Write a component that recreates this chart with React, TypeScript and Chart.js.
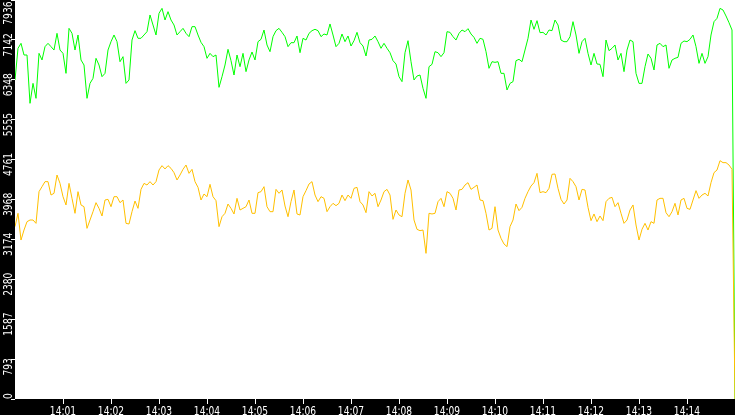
import React, { useEffect, useRef } from "react";
import { Chart, registerables } from "chart.js";

Chart.register(...registerables);

// ---- data ----
const START_LABEL = "14:00:00";
const SAMPLE_SECONDS = 3.75;
const X_MAX_SECONDS = 900;
const X_TICK_LABELS = [
  "14:01", "14:02", "14:03", "14:04", "14:05", "14:06", "14:07",
  "14:08", "14:09", "14:10", "14:11", "14:12", "14:13", "14:14",
];
const Y_MAX = 7936;
const Y_TICK_LABELS = ["0", "793", "1587", "2380", "3174", "3968", "4761", "5555", "6348", "7142", "7936"];

const GREEN_VALUES = [
  6345, 6975, 7074, 6842, 6842, 5881, 6278, 5980, 6875, 6743, 7008, 7074, 7008, 6941, 7273, 6941, 6875, 6477, 7372, 7273,
  6941, 7240, 6743, 6643, 5980, 6278, 6378, 6776, 6643, 6411, 6477, 6941, 7107, 7240, 7107, 6709, 6809, 6278, 6345, 7140,
  7326, 7174, 7174, 7240, 7306, 7638, 7439, 7240, 7671, 7770, 7538, 7704, 7538, 7439, 7240, 7306, 7372, 7273, 7207, 7406,
  7406, 7240, 7094, 7008, 6776, 6875, 6809, 6842, 6199, 6411, 6643, 6955, 6729, 6444, 6842, 6610, 6875, 6511, 6743, 6902,
  6743, 7107, 7154, 7339, 7041, 6908, 7207, 7326, 7372, 7293, 7207, 7008, 7087, 7087, 7220, 6888, 7174, 7140, 7273, 7326,
  7353, 7326, 7207, 7260, 7240, 7459, 7240, 7008, 7074, 7260, 7107, 7220, 7021, 7127, 7293, 7087, 7021, 6822, 7140, 7154,
  7220, 7107, 6975, 7074, 6975, 6888, 6729, 6663, 6411, 6312, 6888, 7127, 6709, 6345, 6424, 6444, 6179, 5980, 6610, 6656,
  6908, 6888, 6809, 6888, 7306, 7293, 7207, 7140, 7273, 7339, 7306, 7366, 7260, 7193, 7074, 7174, 7154, 6908, 6577, 6709,
  6696, 6709, 6477, 6477, 6146, 6278, 6312, 6729, 6756, 6709, 6941, 7174, 7538, 7353, 7525, 7286, 7293, 7240, 7339, 7326,
  7538, 7439, 7140, 7107, 7107, 7207, 7505, 7240, 6875, 7107, 7174, 6875, 6643, 6875, 6663, 6656, 6411, 7140, 6928, 6975,
  7041, 6743, 6875, 6511, 6941, 7140, 7107, 6477, 6278, 6278, 6610, 6862, 6776, 6544, 7041, 7074, 7008, 7041, 6577, 6743,
  6776, 6796, 7074, 7121, 7107, 7154, 7240, 7008, 6676, 6875, 6676, 6809, 7240, 7505, 7571, 7770, 7737, 7618, 7485, 7339,
  0,
];

const YELLOW_VALUES = [
  3428, 3693, 3162, 3361, 3527, 3560, 3560, 3494, 4124, 4223, 4323, 4323, 4057, 4091, 4455, 4289, 4024, 3859, 4289, 3991,
  3693, 4124, 3859, 3825, 3394, 3560, 3726, 3905, 3792, 3640, 3958, 3971, 3825, 4024, 4024, 3905, 3958, 3494, 3481, 3726,
  3938, 3792, 4170, 4289, 4256, 4323, 4256, 4323, 4555, 4641, 4575, 4641, 4588, 4502, 4356, 4455, 4568, 4654, 4488, 4568,
  4323, 4210, 3958, 4077, 4024, 4270, 4024, 3945, 3428, 3626, 3693, 3878, 3792, 3680, 3991, 3759, 3792, 3825, 3958, 3693,
  3693, 4104, 4124, 4223, 3825, 3726, 3726, 4170, 4091, 4157, 3839, 3626, 3925, 4157, 3680, 3660, 4024, 4144, 4276, 4323,
  4057, 3925, 4024, 3991, 3726, 3825, 3892, 3845, 3892, 4057, 3945, 4057, 3991, 4190, 4210, 3925, 3859, 3706, 4124, 4038,
  4091, 3825, 3958, 4124, 4170, 4057, 3573, 3759, 3660, 3626, 4091, 4356, 4157, 3560, 3375, 3348, 3361, 2897, 3693, 3680,
  3693, 3925, 3991, 3825, 4124, 4091, 3991, 3759, 4157, 4170, 4256, 4303, 4170, 4210, 4256, 3958, 3945, 3693, 3361, 3394,
  3825, 3361, 3196, 3083, 3030, 3428, 3560, 3878, 3746, 3812, 3991, 4124, 4236, 4303, 4488, 4104, 4124, 4104, 4190, 4469,
  4475, 4190, 3971, 3878, 3958, 4389, 4323, 4223, 3958, 4170, 4157, 3812, 3547, 3680, 3527, 3640, 3547, 3925, 3991, 4011,
  3825, 3905, 3693, 3494, 3560, 3759, 3859, 3461, 3162, 3375, 3494, 3361, 3527, 3494, 3958, 3991, 3991, 3706, 3626, 3726,
  3892, 3660, 3958, 3991, 3792, 3772, 3958, 4144, 3991, 4057, 4091, 4038, 4303, 4502, 4555, 4740, 4701, 4701, 4654, 4568,
  0,
];

const GREEN_COLOR = "#00ff00";
const YELLOW_COLOR = "#ffc000";
const LABEL_FONT = "12px 'DejaVu Sans', 'Liberation Sans', sans-serif";
const LABEL_SQUEEZE = 0.76;

function labelToSeconds(label: string): number {
  const [h, m, s] = label.split(":").map(Number);
  const [h0, m0, s0] = START_LABEL.split(":").map(Number);
  return (h - h0) * 3600 + (m - m0) * 60 + ((s || 0) - s0);
}

function toPoints(values: number[]) {
  return values.map((v, i) => ({ x: i * SAMPLE_SECONDS, y: v }));
}

const backgroundPlugin = {
  id: "bands",
  beforeDraw(chart: any) {
    const { ctx, chartArea, width, height } = chart;
    ctx.save();
    ctx.fillStyle = "#000000";
    ctx.fillRect(0, 0, width, height);
    ctx.fillStyle = "#ffffff";
    ctx.fillRect(chartArea.left, chartArea.top, chartArea.right - chartArea.left, chartArea.bottom - chartArea.top);
    ctx.restore();
  },
};

// tick labels drawn as condensed text (rotated on the value axis)
const tickLabelPlugin = {
  id: "tickLabels",
  afterDraw(chart: any) {
    const { ctx, chartArea } = chart;
    const yScale = chart.scales.y;
    const xScale = chart.scales.x;
    ctx.save();
    ctx.font = LABEL_FONT;
    ctx.fillStyle = "#ffffff";
    ctx.textBaseline = "alphabetic";

    // value axis
    ctx.textAlign = "left";
    Y_TICK_LABELS.forEach((label, i) => {
      const py = yScale.getPixelForValue((i * Y_MAX) / (Y_TICK_LABELS.length - 1));
      const w = ctx.measureText(label).width * LABEL_SQUEEZE;
      const start = Math.min(Math.max(py + 16.5, w + 1.5), chartArea.bottom);
      ctx.save();
      ctx.translate(chartArea.left - 3.3, start);
      ctx.rotate(-Math.PI / 2);
      ctx.scale(LABEL_SQUEEZE, 1);
      ctx.fillText(label, 0, 0);
      ctx.restore();
    });

    // time axis
    ctx.textAlign = "center";
    X_TICK_LABELS.forEach((label) => {
      const px = xScale.getPixelForValue(labelToSeconds(label));
      ctx.save();
      ctx.translate(px, chartArea.bottom + 16.2);
      ctx.scale(LABEL_SQUEEZE, 1);
      ctx.fillText(label, 0, 0);
      ctx.restore();
    });
    ctx.restore();
  },
};

export default function App() {
  const canvasRef = useRef<HTMLCanvasElement | null>(null);

  useEffect(() => {
    document.body.style.margin = "0";
    const canvas = canvasRef.current;
    if (!canvas) return;
    const chart = new Chart(canvas, {
      type: "line",
      data: {
        datasets: [
          {
            label: "green",
            data: toPoints(GREEN_VALUES),
            borderColor: GREEN_COLOR,
            borderWidth: 1,
            pointRadius: 0,
            tension: 0,
            fill: false,
            order: 1,
          },
          {
            label: "yellow",
            data: toPoints(YELLOW_VALUES),
            borderColor: YELLOW_COLOR,
            borderWidth: 1,
            pointRadius: 0,
            tension: 0,
            fill: false,
            order: 0,
          },
        ],
      },
      options: {
        responsive: false,
        maintainAspectRatio: false,
        animation: false,
        events: [],
        layout: { padding: 0 },
        plugins: {
          legend: { display: false },
          tooltip: { enabled: false },
          title: { display: false },
        },
        scales: {
          x: {
            type: "linear",
            min: 0,
            max: X_MAX_SECONDS,
            border: { display: false },
            grid: {
              display: true,
              drawOnChartArea: false,
              drawTicks: true,
              tickLength: 5,
              color: "#ffffff",
              lineWidth: 1,
            },
            afterBuildTicks(scale: any) {
              scale.ticks = X_TICK_LABELS.map((l) => ({ value: labelToSeconds(l) }));
            },
            afterFit(scale: any) {
              scale.height = 16;
            },
            ticks: { display: false, autoSkip: false },
          },
          y: {
            type: "linear",
            min: 0,
            max: Y_MAX,
            border: { display: false },
            grid: {
              display: true,
              drawOnChartArea: false,
              drawTicks: true,
              tickLength: 4,
              color: "#ffffff",
              lineWidth: 1,
            },
            afterBuildTicks(scale: any) {
              scale.ticks = Y_TICK_LABELS.map((_, i) => ({ value: (i * Y_MAX) / (Y_TICK_LABELS.length - 1) }));
            },
            afterFit(scale: any) {
              scale.width = 15;
            },
            ticks: { display: false },
          },
        },
      },
      plugins: [backgroundPlugin, tickLabelPlugin],
    } as any);
    return () => chart.destroy();
  }, []);

  return (
    <div style={{ position: "fixed", left: 0, top: 0, width: 735, height: 415, overflow: "hidden" }}>
      <canvas ref={canvasRef} width={735} height={415} style={{ display: "block" }} />
    </div>
  );
}
